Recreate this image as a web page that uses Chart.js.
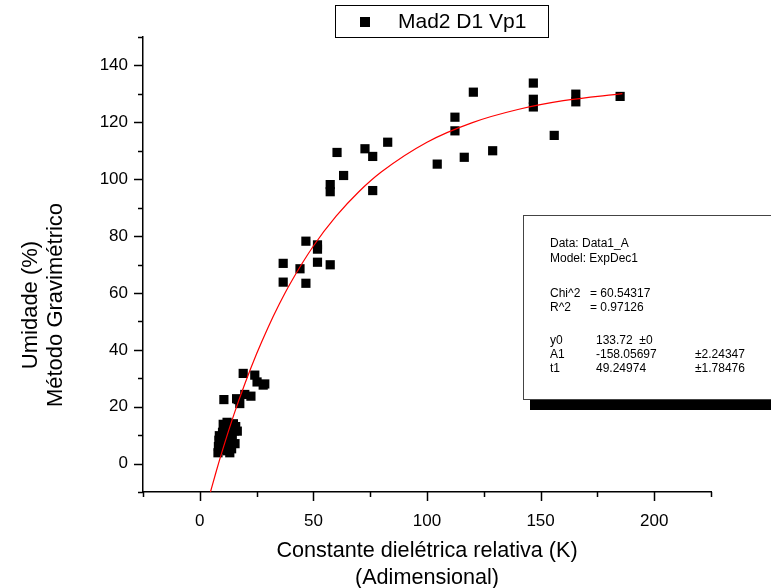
<!DOCTYPE html>
<html><head><meta charset="utf-8">
<script src="https://cdn.jsdelivr.net/npm/chart.js@4/dist/chart.umd.min.js"></script>
<style>html,body{margin:0;padding:0;background:#fff;}#wrap{width:771px;height:588px;}</style>
</head><body><div id="wrap"><canvas id="c" width="771" height="588"></canvas></div>
<script>
const seriesLabel = 'Mad2 D1 Vp1';
// measured points (K, Umidade %)
const pointsX = [104.5,116.4,128.9,112.3,112.3,120.4,146.8,146.8,146.8,156.0,165.5,165.5,185.0,
  60.4,72.7,76.1,82.7,63.3,57.4,57.4,76.1,46.7,51.8,51.8,36.7,44.1,51.8,57.4,36.7,46.7,
  19.1,24.2,25.2,27.9,28.6,10.6,16.9,19.8,22.5,17.6,16.2,
  8.0,8.2,8.4,8.6,9.0,9.5,10.0,10.3,10.8,11.2,11.5,12.0,12.0,12.6,13.0,13.5,14.0,14.3,14.8,15.2,15.5,15.8,13.2,16.5];
const pointsY = [105.3,107.7,110.0,121.8,117.0,130.6,133.8,128.1,125.4,115.4,129.9,127.2,129.1,
  109.4,110.7,108.0,113.0,101.3,98.1,95.6,96.0,78.2,76.9,75.4,70.4,68.5,70.8,69.9,63.8,63.4,
  31.7,31.1,28.7,27.6,28.0,22.5,22.5,24.3,23.7,21.1,22.8,
  3.8,6.0,8.2,9.8,5.0,7.2,11.0,13.8,9.0,12.2,6.2,4.5,14.5,10.5,8.0,12.8,5.2,9.5,14.0,11.5,7.0,13.0,3.8,11.4];
// fitted curve
const fitX = [4.7,7,10,15,20,25,30,35,40,50,60,70,80,100,120,140,160,186];
const fitY = [-10,-3.4,4.7,17.2,28.4,38.6,47.8,56.1,63.6,76.5,87.0,95.6,102.6,113.0,119.9,124.5,127.6,130.1];
const xTickValues = [0,50,100,150,200];
const yTickValues = [0,20,40,60,80,100,120,140];
const xMinorValues = [-25,25,75,125,175,225];
const yMinorValues = [-10,10,30,50,70,90,110,130,150];
const xTitleLines = ['Constante dielétrica relativa (K)','(Adimensional)'];
const yTitleLines = ['Umidade (%)','Método Gravimétrico'];
const statsRows = [
  ['Data: Data1_A'],['Model: ExpDec1'],
  ['Chi^2','= 60.54317'],['R^2','= 0.97126'],
  ['y0','133.72  \u00b10'],['A1','-158.05697','\u00b12.24347'],['t1','49.24974','\u00b11.78476']
];
const FONT = '"Liberation Sans", Arial, sans-serif';

const deco = {
  id: 'deco',
  afterDraw(chart) {
    const ctx = chart.ctx, xs = chart.scales.x, ys = chart.scales.y;
    const ca = chart.chartArea;
    ctx.save();
    ctx.strokeStyle = '#000'; ctx.lineWidth = 1.5;
    const drawX = (v, len) => { const p = Math.round(xs.getPixelForValue(v)) + 0.5; ctx.beginPath(); ctx.moveTo(p, ca.bottom); ctx.lineTo(p, ca.bottom + len); ctx.stroke(); };
    const drawY = (v, len) => { const p = Math.round(ys.getPixelForValue(v)) + 0.5; ctx.beginPath(); ctx.moveTo(ca.left, p); ctx.lineTo(ca.left - len, p); ctx.stroke(); };
    xTickValues.forEach(v => drawX(v, 9));
    xMinorValues.forEach(v => drawX(v, 5));
    yTickValues.forEach(v => drawY(v, 9));
    yMinorValues.forEach(v => drawY(v, 5));
    // y title
    ctx.fillStyle = '#000';
    ctx.font = '22px ' + FONT;
    ctx.textAlign = 'center'; ctx.textBaseline = 'middle';
    const yc = 305;
    [[31, yTitleLines[0]], [56, yTitleLines[1]]].forEach(([x, t]) => {
      ctx.save(); ctx.translate(x, yc); ctx.rotate(-Math.PI / 2); ctx.fillText(t, 0, 0); ctx.restore();
    });
    // legend box
    ctx.lineWidth = 1;
    ctx.strokeStyle = '#000';
    ctx.strokeRect(335.5, 5.5, 213, 32);
    ctx.fillRect(360, 17, 10, 10);
    ctx.font = '21px ' + FONT;
    ctx.textAlign = 'left';
    ctx.fillText(seriesLabel, 398, 22);
    // stats box
    ctx.fillStyle = '#000';
    ctx.fillRect(530, 400, 250, 10);
    ctx.fillStyle = '#fff';
    ctx.fillRect(523, 215, 260, 185);
    ctx.strokeStyle = '#444';
    ctx.strokeRect(523.5, 215.5, 260, 184);
    ctx.fillStyle = '#000';
    ctx.font = '12px ' + FONT;
    const ys2 = [244, 259, 294, 308, 341, 355, 369];
    statsRows.forEach((r, i) => {
      const y = ys2[i];
      ctx.fillText(r[0], 550, y);
      if (r[1]) ctx.fillText(r[1], r[1][0] === '=' ? 590 : 596, y);
      if (r[2]) ctx.fillText(r[2], 695, y);
    });
    ctx.restore();
  }
};

new Chart(document.getElementById('c'), {
  type: 'scatter',
  data: {
    datasets: [
      { label: 'fit', data: fitX.map((x, i) => ({x, y: fitY[i]})), showLine: true, borderColor: '#ff0000', borderWidth: 1.2,
        pointRadius: 0, cubicInterpolationMode: 'monotone', fill: false },
      { label: seriesLabel, data: pointsX.map((x, i) => ({x, y: pointsY[i]})), pointStyle: 'rect', pointRadius: 6.5,
        backgroundColor: '#000', borderWidth: 0, showLine: false }
    ]
  },
  options: {
    responsive: false, animation: false, events: [],
    layout: { padding: { top: 37, right: 60, left: 0, bottom: 0 } },
    plugins: { legend: { display: false }, tooltip: { enabled: false } },
    scales: {
      x: {
        type: 'linear', min: -25, max: 225,
        afterFit: s => { s.height = 96; },
        afterBuildTicks: s => { s.ticks = xTickValues.map(v => ({value: v})); },
        grid: { display: false, drawTicks: false },
        border: { display: true, color: '#000', width: 1.5 },
        ticks: { color: '#000', padding: 19, font: { family: FONT, size: 17 } },
        title: { display: true, text: xTitleLines, color: '#000', font: { family: FONT, size: 21.6, lineHeight: '27px' }, padding: { top: 0, bottom: -4 } }
      },
      y: {
        type: 'linear', min: -10, max: 150,
        afterFit: s => { s.width = 143; },
        afterBuildTicks: s => { s.ticks = yTickValues.map(v => ({value: v})); },
        grid: { display: false, drawTicks: false },
        border: { display: true, color: '#000', width: 1.5 },
        ticks: { color: '#000', padding: 15, font: { family: FONT, size: 17 } }
      }
    }
  },
  plugins: [deco]
});
</script></body></html>
